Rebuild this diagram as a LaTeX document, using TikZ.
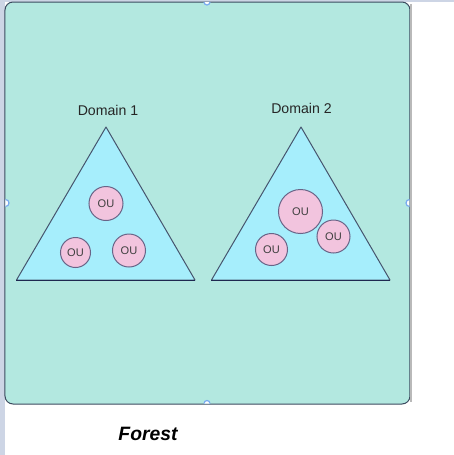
\documentclass[tikz,border=0pt]{standalone}
\usepackage{fontspec}
\setmainfont{Liberation Sans}
\usetikzlibrary{positioning}

\definecolor{frameteal}{RGB}{179,232,224}
\definecolor{domblue}{RGB}{166,238,252}
\definecolor{oupink}{RGB}{242,196,222}
\definecolor{oustroke}{RGB}{105,100,135}
\definecolor{domstroke}{RGB}{70,85,110}
\definecolor{sidestrip}{RGB}{205,213,229}
\definecolor{handleblue}{RGB}{120,170,240}

\tikzset{every picture/.style={line width=0.75pt}}
\tikzset{
  ounode/.style={circle, draw=oustroke, fill=oupink, line width=0.75pt, inner sep=0pt, text=black!75, font=\fontsize{8.3}{10}\selectfont},
  domlabel/.style={inner sep=0.75pt, text=black!85, font=\fontsize{10.6}{12}\selectfont},
  domtri/.style={draw=domstroke, fill=domblue, line width=0.75pt, line join=round},
  selhandle/.style={draw=handleblue, fill=white, line width=0.9pt}
}

\begin{document}
\begin{tikzpicture}[x=0.75pt,y=0.75pt,yscale=-1,xscale=1]
\useasboundingbox (0,0) rectangle (454,455);

%Side strips
\fill [sidestrip] (0,0) rectangle (5,455) ;
\fill [sidestrip] (0,0) rectangle (454,1.5) ;

%Rounded Rect [id:frame]
\draw [draw={rgb, 255:red, 60; green, 75; blue, 95 }, fill=frameteal, rounded corners=6pt] (5,2) rectangle (410,404) ;
\draw [color={rgb, 255:red, 185; green, 185; blue, 185 }, line width=1.2pt] (411.2,4) -- (411.2,402) ;

%Handles
\draw [selhandle] (204,2) arc (180:0:3) ;
\draw [selhandle] (204,403.5) arc (180:360:3) ;
\draw [selhandle] (5.5,199.5) arc (-90:90:3.5) ;
\draw [selhandle] (409.5,199.5) arc (270:90:3.5) ;

%Triangle [id:dom1]
\draw [domtri] (106,127) -- (195,280) -- (16.5,280) -- cycle ;
\draw [color={rgb, 255:red, 30; green, 40; blue, 80 }] (16.5,280) -- (195,280) ;
%Triangle [id:dom2]
\draw [domtri] (301,127) -- (390,280) -- (211.5,280) -- cycle ;
\draw [color={rgb, 255:red, 30; green, 40; blue, 80 }] (211.5,280) -- (390,280) ;

% Text Node
\node [domlabel] (dom1) at (108,110.5) {Domain 1};
% Text Node
\node [domlabel] (dom2) at (301.5,108) {Domain 2};

% OU nodes, domain 1
\node [ounode, minimum size=34*0.75pt] (ouA) at (106,203.5) {OU};
\node [ounode, minimum size=30*0.75pt] (ouB) at (75.5,252.5) {OU};
\node [ounode, minimum size=33*0.75pt] (ouC) at (129,250.5) {OU};
% OU nodes, domain 2
\node [ounode, minimum size=44*0.75pt] (ouD) at (300.5,211.5) {OU};
\node [ounode, minimum size=33*0.75pt] (ouE) at (333.5,236.5) {OU};
\node [ounode, minimum size=32*0.75pt] (ouF) at (271.5,249.5) {OU};

% Text Node
\node [inner sep=0.75pt, font=\fontsize{14.5}{16}\selectfont\bfseries\itshape] (forest) at (148,434) {Forest};

\end{tikzpicture}
\end{document}
